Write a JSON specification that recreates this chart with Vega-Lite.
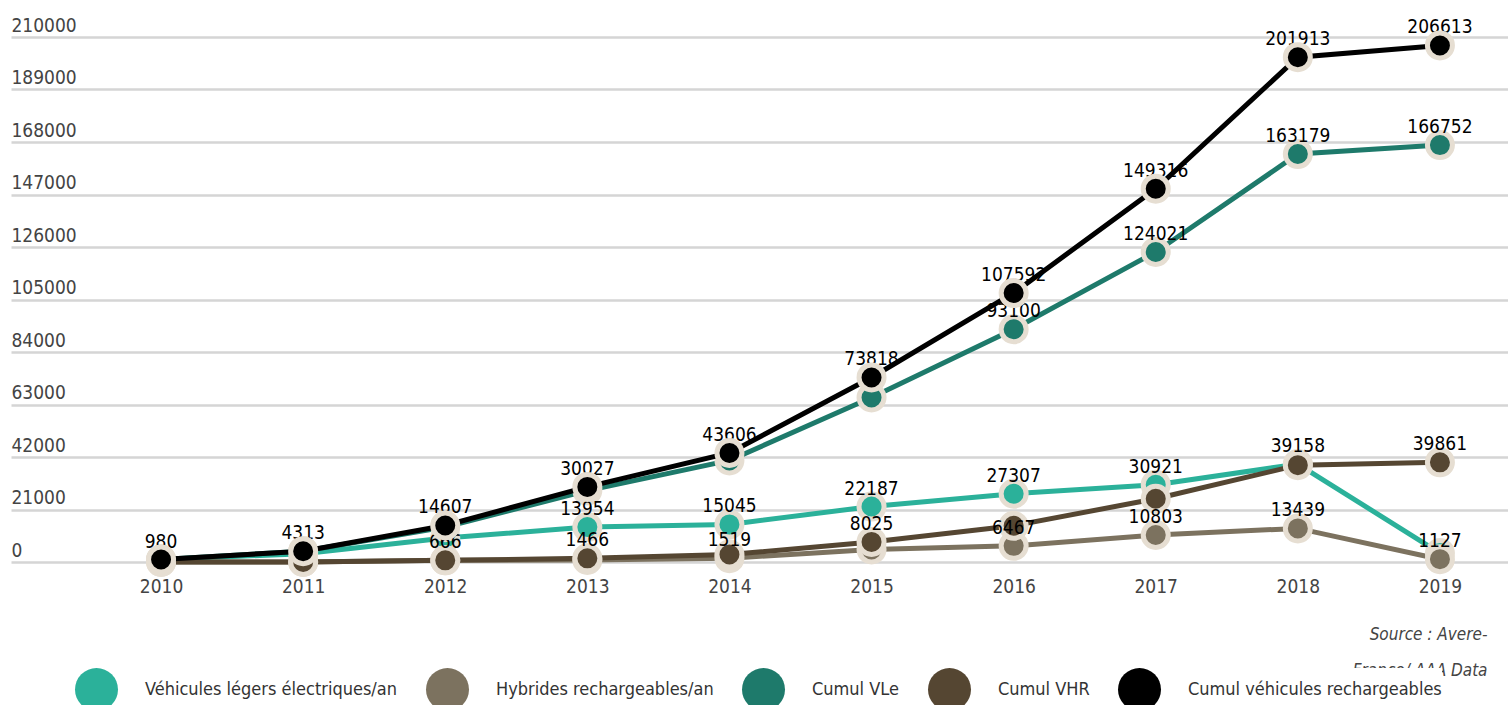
{
  "$schema": "https://vega.github.io/schema/vega-lite/v6.json",
  "width": 1497,
  "height": 525,
  "autosize": {"type": "none"},
  "padding": {"left": 11, "top": 37, "right": 0, "bottom": 143},
  "background": "white",
  "config": {
    "view": {"stroke": null},
    "font": "DejaVu Sans Condensed, Roboto, sans-serif",
    "legend": {
      "orient": "none",
      "legendX": 64,
      "legendY": 631,
      "direction": "horizontal",
      "title": null,
      "symbolType": "circle",
      "symbolSize": 1849,
      "symbolStrokeWidth": 0,
      "symbolOpacity": 1,
      "labelFontSize": 18,
      "labelColor": "#333333",
      "labelOffset": 27,
      "columnPadding": 28,
      "labelLimit": 400,
      "fillColor": "white"
    }
  },
  "data": {
    "values": [
      {"year": 2010, "s": "Véhicules légers électriques/an", "v": 980, "lbl": ""},
      {"year": 2011, "s": "Véhicules légers électriques/an", "v": 3333, "lbl": ""},
      {"year": 2012, "s": "Véhicules légers électriques/an", "v": 9628, "lbl": ""},
      {"year": 2013, "s": "Véhicules légers électriques/an", "v": 13954, "lbl": "13954"},
      {"year": 2014, "s": "Véhicules légers électriques/an", "v": 15045, "lbl": "15045"},
      {"year": 2015, "s": "Véhicules légers électriques/an", "v": 22187, "lbl": "22187"},
      {"year": 2016, "s": "Véhicules légers électriques/an", "v": 27307, "lbl": "27307"},
      {"year": 2017, "s": "Véhicules légers électriques/an", "v": 30921, "lbl": "30921"},
      {"year": 2018, "s": "Véhicules légers électriques/an", "v": 39158, "lbl": "39158"},
      {"year": 2019, "s": "Véhicules légers électriques/an", "v": 3573, "lbl": ""},
      {"year": 2010, "s": "Hybrides rechargeables/an", "v": 0, "lbl": ""},
      {"year": 2011, "s": "Hybrides rechargeables/an", "v": 0, "lbl": ""},
      {"year": 2012, "s": "Hybrides rechargeables/an", "v": 666, "lbl": ""},
      {"year": 2013, "s": "Hybrides rechargeables/an", "v": 800, "lbl": ""},
      {"year": 2014, "s": "Hybrides rechargeables/an", "v": 1519, "lbl": "1519"},
      {"year": 2015, "s": "Hybrides rechargeables/an", "v": 5040, "lbl": ""},
      {"year": 2016, "s": "Hybrides rechargeables/an", "v": 6467, "lbl": "6467"},
      {"year": 2017, "s": "Hybrides rechargeables/an", "v": 10803, "lbl": "10803"},
      {"year": 2018, "s": "Hybrides rechargeables/an", "v": 13439, "lbl": "13439"},
      {"year": 2019, "s": "Hybrides rechargeables/an", "v": 1127, "lbl": "1127"},
      {"year": 2010, "s": "Cumul VLe", "v": 980, "lbl": ""},
      {"year": 2011, "s": "Cumul VLe", "v": 4313, "lbl": ""},
      {"year": 2012, "s": "Cumul VLe", "v": 13941, "lbl": ""},
      {"year": 2013, "s": "Cumul VLe", "v": 28561, "lbl": ""},
      {"year": 2014, "s": "Cumul VLe", "v": 40621, "lbl": ""},
      {"year": 2015, "s": "Cumul VLe", "v": 65793, "lbl": ""},
      {"year": 2016, "s": "Cumul VLe", "v": 93100, "lbl": "93100"},
      {"year": 2017, "s": "Cumul VLe", "v": 124021, "lbl": "124021"},
      {"year": 2018, "s": "Cumul VLe", "v": 163179, "lbl": "163179"},
      {"year": 2019, "s": "Cumul VLe", "v": 166752, "lbl": "166752"},
      {"year": 2010, "s": "Cumul VHR", "v": 0, "lbl": ""},
      {"year": 2011, "s": "Cumul VHR", "v": 0, "lbl": ""},
      {"year": 2012, "s": "Cumul VHR", "v": 666, "lbl": "666"},
      {"year": 2013, "s": "Cumul VHR", "v": 1466, "lbl": "1466"},
      {"year": 2014, "s": "Cumul VHR", "v": 2985, "lbl": ""},
      {"year": 2015, "s": "Cumul VHR", "v": 8025, "lbl": "8025"},
      {"year": 2016, "s": "Cumul VHR", "v": 14492, "lbl": ""},
      {"year": 2017, "s": "Cumul VHR", "v": 25295, "lbl": ""},
      {"year": 2018, "s": "Cumul VHR", "v": 38734, "lbl": ""},
      {"year": 2019, "s": "Cumul VHR", "v": 39861, "lbl": "39861"},
      {"year": 2010, "s": "Cumul véhicules rechargeables", "v": 980, "lbl": "980"},
      {"year": 2011, "s": "Cumul véhicules rechargeables", "v": 4313, "lbl": "4313"},
      {"year": 2012, "s": "Cumul véhicules rechargeables", "v": 14607, "lbl": "14607"},
      {"year": 2013, "s": "Cumul véhicules rechargeables", "v": 30027, "lbl": "30027"},
      {"year": 2014, "s": "Cumul véhicules rechargeables", "v": 43606, "lbl": "43606"},
      {"year": 2015, "s": "Cumul véhicules rechargeables", "v": 73818, "lbl": "73818"},
      {"year": 2016, "s": "Cumul véhicules rechargeables", "v": 107592, "lbl": "107592"},
      {"year": 2017, "s": "Cumul véhicules rechargeables", "v": 149316, "lbl": "149316"},
      {"year": 2018, "s": "Cumul véhicules rechargeables", "v": 201913, "lbl": "201913"},
      {"year": 2019, "s": "Cumul véhicules rechargeables", "v": 206613, "lbl": "206613"}
    ]
  },
  "encoding": {
    "x": {
      "field": "year",
      "type": "quantitative",
      "scale": {"domain": [2008.944, 2019.479], "nice": false, "zero": false},
      "axis": {
        "values": [2010, 2011, 2012, 2013, 2014, 2015, 2016, 2017, 2018, 2019],
        "format": "d",
        "grid": false,
        "ticks": false,
        "domain": false,
        "labelFontSize": 19,
        "labelColor": "#444444",
        "labelPadding": 15,
        "title": ["Source : Avere-", "France/ AAA Data"],
        "titleFontStyle": "italic",
        "titleFontWeight": "normal",
        "titleFontSize": 17,
        "titleColor": "#444444",
        "titleAnchor": "end",
        "titleAlign": "right",
        "titleBaseline": "alphabetic",
        "titleX": 1476,
        "titleY": 77,
        "titleLineHeight": 36
      }
    },
    "y": {
      "field": "v",
      "type": "quantitative",
      "scale": {"domain": [0, 210000], "nice": false},
      "axis": {
        "values": [0, 21000, 42000, 63000, 84000, 105000, 126000, 147000, 168000, 189000, 210000],
        "format": "d",
        "title": null,
        "ticks": false,
        "domain": false,
        "grid": true,
        "gridColor": "#d5d5d5",
        "gridWidth": 2.5,
        "labelAlign": "left",
        "labelBaseline": "alphabetic",
        "labelPadding": 0,
        "labelOffset": -6,
        "labelFontSize": 19,
        "labelColor": "#444444"
      }
    },
    "color": {
      "field": "s",
      "type": "nominal",
      "scale": {
        "domain": ["Véhicules légers électriques/an", "Hybrides rechargeables/an", "Cumul VLe", "Cumul VHR", "Cumul véhicules rechargeables"],
        "range": ["#2bb19a", "#7c725f", "#1e7a6b", "#554632", "#000000"]
      }
    }
  },
  "layer": [
    {
      "transform": [{"filter": "datum.s !== 'Cumul véhicules rechargeables'"}],
      "mark": {"type": "line", "strokeWidth": 5}
    },
    {
      "transform": [{"filter": "datum.s !== 'Cumul véhicules rechargeables'"}],
      "mark": {"type": "point", "filled": true, "shape": "circle", "size": 625, "stroke": "#e6ded2", "strokeWidth": 5, "opacity": 1}
    },
    {
      "mark": {"type": "text", "fontSize": 19, "dy": -12, "baseline": "alphabetic", "align": "center"},
      "encoding": {"text": {"field": "lbl", "type": "nominal"}, "color": {"value": "#000000"}}
    },
    {
      "transform": [{"filter": "datum.s === 'Cumul véhicules rechargeables'"}],
      "mark": {"type": "line", "strokeWidth": 5}
    },
    {
      "transform": [{"filter": "datum.s === 'Cumul véhicules rechargeables'"}],
      "mark": {"type": "point", "filled": true, "shape": "circle", "size": 625, "stroke": "#e6ded2", "strokeWidth": 5, "opacity": 1}
    }
  ]
}
